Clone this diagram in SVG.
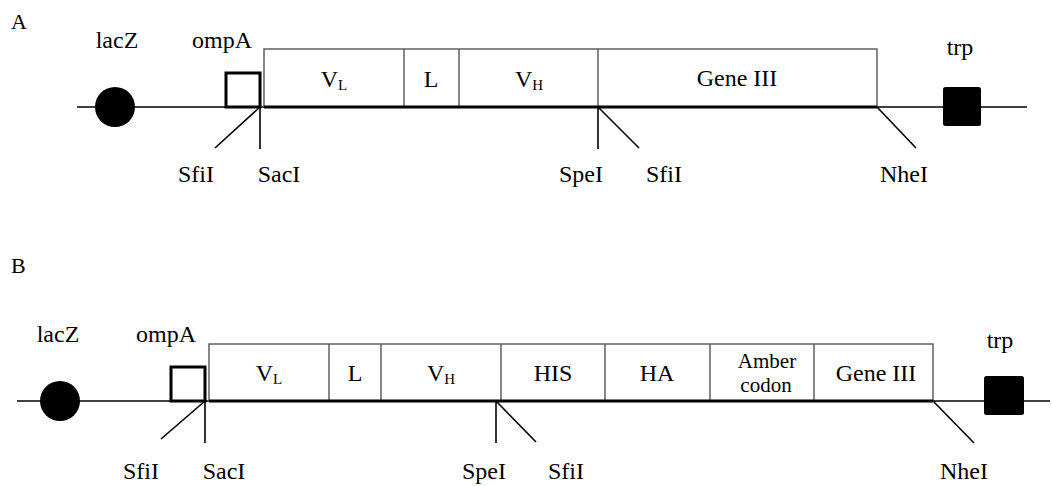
<svg xmlns="http://www.w3.org/2000/svg" width="1052" height="486" viewBox="0 0 1052 486">
  <style>
    text { font-family: "Liberation Serif", "Times New Roman", serif; fill: #000; }
    .lbl { font-size: 24px; text-anchor: middle; }
    .panel { font-size: 22px; }
    .sub { font-size: 15px; }
    .small { font-size: 21px; text-anchor: middle; }
    .backbone { stroke: #000; stroke-width: 1.6; fill: none; }
    .insert { stroke: #000; stroke-width: 3; fill: none; }
    .box { fill: #fff; stroke: #555; stroke-width: 1.4; }
    .cut { stroke: #000; stroke-width: 1.6; fill: none; }
    .sig { fill: #fff; stroke: #000; stroke-width: 3; }
  </style>

  <!-- Panel A -->
  <text class="panel" x="11" y="29">A</text>
  <g id="A-backbone" >
    <line class="backbone" x1="77" y1="107" x2="1027" y2="107"/>
  </g>
  <g id="A-lacZ">
    <circle cx="115" cy="107" r="20" fill="#000"/>
    <text class="lbl" x="117" y="48">lacZ</text>
  </g>
  <g id="A-ompA">
    <rect class="sig" x="226" y="73" width="34" height="34"/>
    <text class="lbl" x="222" y="48">ompA</text>
  </g>
  <g id="A-insert">
    <rect class="box" x="264" y="49" width="613" height="58"/>
    <line class="box" x1="404" y1="49" x2="404" y2="107"/>
    <line class="box" x1="459" y1="49" x2="459" y2="107"/>
    <line class="box" x1="598" y1="49" x2="598" y2="107"/>
    <line class="insert" x1="264" y1="107" x2="877" y2="107"/>
    <text class="lbl" x="334" y="87">V<tspan class="sub" dy="3">L</tspan></text>
    <text class="lbl" x="431" y="87">L</text>
    <text class="lbl" x="529" y="87">V<tspan class="sub" dy="3">H</tspan></text>
    <text class="lbl" x="737" y="86">Gene III</text>
  </g>
  <g id="A-trp">
    <rect x="943" y="87" width="38" height="39" rx="2.5" fill="#000"/>
    <text class="lbl" x="960" y="55">trp</text>
  </g>
  <g id="A-sites">
    <line class="cut" x1="260" y1="107" x2="215" y2="148"/>
    <line class="cut" x1="260" y1="107" x2="260" y2="149"/>
    <line class="cut" x1="598" y1="107" x2="598" y2="149"/>
    <line class="cut" x1="598" y1="107" x2="639" y2="148"/>
    <line class="cut" x1="877" y1="107" x2="916" y2="148"/>
    <text class="lbl" x="196" y="182">SfiI</text>
    <text class="lbl" x="279" y="182">SacI</text>
    <text class="lbl" x="581" y="182">SpeI</text>
    <text class="lbl" x="664" y="182">SfiI</text>
    <text class="lbl" x="904" y="182">NheI</text>
  </g>

  <!-- Panel B -->
  <text class="panel" x="11" y="273">B</text>
  <g id="B-backbone">
    <line class="backbone" x1="17" y1="401" x2="1050" y2="401"/>
  </g>
  <g id="B-lacZ">
    <circle cx="60" cy="401" r="20" fill="#000"/>
    <text class="lbl" x="58" y="342">lacZ</text>
  </g>
  <g id="B-ompA">
    <rect class="sig" x="171" y="367" width="34" height="34"/>
    <text class="lbl" x="166" y="342">ompA</text>
  </g>
  <g id="B-insert">
    <rect class="box" x="209" y="344" width="724" height="57"/>
    <line class="box" x1="329" y1="344" x2="329" y2="401"/>
    <line class="box" x1="381" y1="344" x2="381" y2="401"/>
    <line class="box" x1="501" y1="344" x2="501" y2="401"/>
    <line class="box" x1="605" y1="344" x2="605" y2="401"/>
    <line class="box" x1="710" y1="344" x2="710" y2="401"/>
    <line class="box" x1="814" y1="344" x2="814" y2="401"/>
    <line class="insert" x1="209" y1="401" x2="933" y2="401"/>
    <text class="lbl" x="269" y="381">V<tspan class="sub" dy="3">L</tspan></text>
    <text class="lbl" x="355" y="381">L</text>
    <text class="lbl" x="441" y="381">V<tspan class="sub" dy="3">H</tspan></text>
    <text class="lbl" x="553" y="381">HIS</text>
    <text class="lbl" x="657" y="381">HA</text>
    <text class="small" x="767" y="368">Amber</text>
    <text class="small" x="766" y="392">codon</text>
    <text class="lbl" x="876" y="381">Gene III</text>
  </g>
  <g id="B-trp">
    <rect x="984" y="376" width="40" height="39" rx="2.5" fill="#000"/>
    <text class="lbl" x="1000" y="348">trp</text>
  </g>
  <g id="B-sites">
    <line class="cut" x1="205" y1="401" x2="161" y2="439"/>
    <line class="cut" x1="205" y1="401" x2="205" y2="443"/>
    <line class="cut" x1="496" y1="401" x2="496" y2="443"/>
    <line class="cut" x1="496" y1="401" x2="536" y2="442"/>
    <line class="cut" x1="933" y1="401" x2="974" y2="443"/>
    <text class="lbl" x="141" y="479">SfiI</text>
    <text class="lbl" x="224" y="479">SacI</text>
    <text class="lbl" x="484" y="479">SpeI</text>
    <text class="lbl" x="566" y="479">SfiI</text>
    <text class="lbl" x="964" y="479">NheI</text>
  </g>
</svg>
